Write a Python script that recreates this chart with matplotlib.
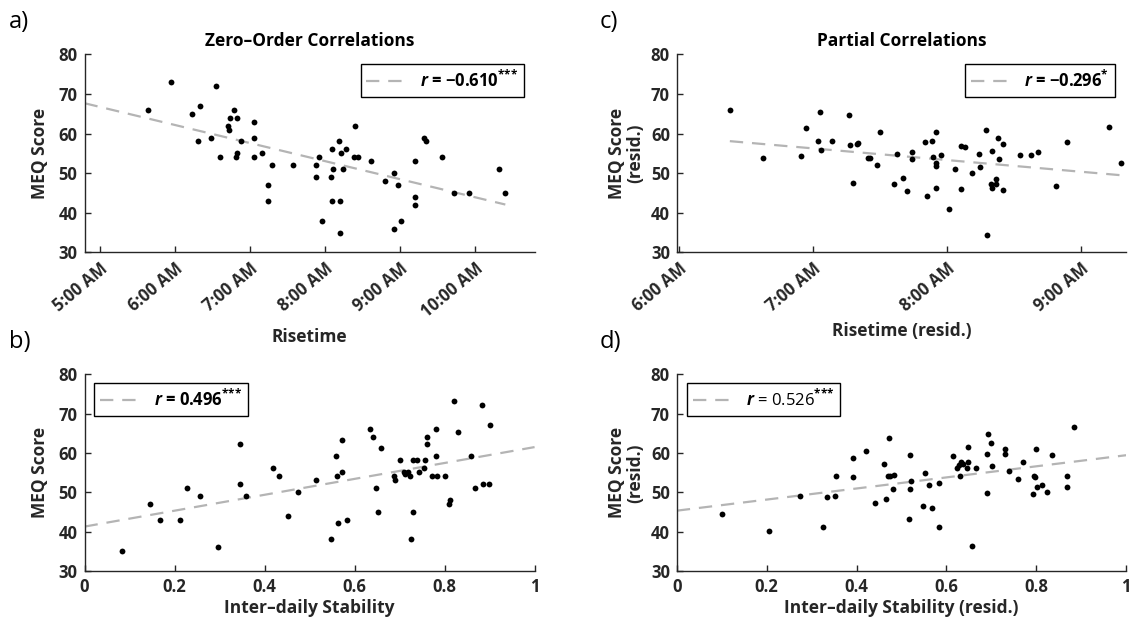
import numpy as np
import matplotlib.pyplot as plt
from matplotlib.ticker import FuncFormatter

plt.rcParams['font.family'] = ['Open Sans', 'DejaVu Sans']
plt.rcParams['font.weight'] = 'bold'
plt.rcParams['axes.labelweight'] = 'bold'
plt.rcParams['mathtext.fontset'] = 'custom'
plt.rcParams['mathtext.rm'] = 'Open Sans'
plt.rcParams['mathtext.it'] = 'Open Sans:italic'
plt.rcParams['mathtext.bf'] = 'Open Sans:bold'
plt.rcParams['mathtext.bfit'] = 'Open Sans:italic:bold'

# a) risetime (hours) vs MEQ score
rise_a = [5.65, 5.95, 6.23, 6.31, 6.34, 6.48, 6.55, 6.61, 6.71, 6.73, 6.74, 6.79, 6.83, 6.82,
          6.83, 6.89, 7.06, 7.06, 7.06, 7.17, 7.24, 7.30, 7.25, 7.58, 7.88, 7.89, 7.92, 7.96,
          8.10, 8.09, 8.11, 8.10, 8.19, 8.21, 8.22, 8.20, 8.25, 8.28, 8.40, 8.39, 8.45, 8.62,
          8.80, 8.93, 8.93, 8.98, 9.02, 9.20, 9.20, 9.21, 9.33, 9.35, 9.56, 9.72, 9.92, 10.33, 10.41]
meq_a = [66, 73, 65, 58, 67, 59, 72, 54, 62, 61, 64, 66, 64, 54,
         55, 58, 63, 59, 54, 55, 47, 52, 43, 52, 49, 52, 54, 38,
         56, 49, 51, 43, 58, 43, 55, 35, 51, 56, 62, 54, 54, 53,
         48, 50, 36, 47, 38, 53, 44, 42, 59, 58, 54, 45, 45, 51, 45]

# b) inter-daily stability vs MEQ score
isv_b = [0.083, 0.146, 0.168, 0.211, 0.228, 0.256, 0.297, 0.346, 0.346, 0.359, 0.418, 0.431,
         0.452, 0.474, 0.514, 0.547, 0.559, 0.561, 0.563, 0.571, 0.571, 0.584, 0.634, 0.641,
         0.648, 0.652, 0.659, 0.688, 0.689, 0.701, 0.709, 0.713, 0.719, 0.723, 0.726, 0.729,
         0.730, 0.738, 0.743, 0.754, 0.757, 0.760, 0.760, 0.772, 0.781, 0.781, 0.783, 0.801,
         0.809, 0.813, 0.822, 0.829, 0.858, 0.868, 0.883, 0.886, 0.899, 0.901]
meq_b = [35.2, 47.2, 43.1, 43.1, 51.2, 49.2, 36.1, 62.2, 52.1, 49.2, 56.2, 54.2,
         44.1, 50.1, 53.1, 38.1, 59.2, 54.2, 42.2, 55.1, 63.2, 43.1, 66.1, 64.1,
         51.2, 45.1, 61.2, 54.2, 53.1, 58.3, 55.1, 54.7, 55.1, 54.2, 38.1, 45.1,
         58.3, 58.3, 55.1, 56.2, 58.3, 64.1, 62.2, 54.2, 59.2, 66.1, 54.2, 54.2,
         47.2, 48.2, 73.1, 65.3, 59.2, 51.2, 72.2, 52.1, 52.1, 67.1]

# c) risetime residuals vs MEQ residuals
rise_c = [6.38, 6.63, 6.91, 6.95, 7.04, 7.05, 7.06, 7.14, 7.27, 7.28, 7.30, 7.33, 7.34, 7.41,
          7.43, 7.48, 7.50, 7.61, 7.63, 7.67, 7.70, 7.74, 7.74, 7.84, 7.85, 7.89, 7.90, 7.92,
          7.92, 7.92, 7.92, 7.96, 8.02, 8.06, 8.11, 8.14, 8.11, 8.19, 8.24, 8.25, 8.29, 8.30,
          8.34, 8.34, 8.33, 8.37, 8.37, 8.38, 8.39, 8.42, 8.42, 8.55, 8.63, 8.68, 8.82, 8.90,
          9.21, 9.30]
meq_c = [65.9, 53.9, 54.3, 61.4, 58.1, 65.4, 55.9, 58.1, 64.6, 57.0, 47.5, 57.4, 57.7, 53.9,
         53.9, 52.1, 60.3, 47.3, 54.8, 48.9, 45.6, 55.4, 53.6, 57.9, 44.3, 58.2, 54.0, 52.6,
         51.9, 60.3, 46.3, 54.5, 40.9, 51.1, 56.9, 56.5, 46.1, 50.1, 54.9, 51.5, 61.0, 34.3,
         46.3, 55.7, 47.4, 48.6, 47.3, 59.0, 53.6, 57.4, 45.7, 54.7, 54.5, 55.3, 46.8, 57.8,
         61.6, 52.6]

# d) inter-daily stability residuals vs MEQ residuals
isv_d = [0.101, 0.205, 0.275, 0.326, 0.334, 0.351, 0.355, 0.393, 0.393, 0.422, 0.441, 0.461,
         0.466, 0.472, 0.471, 0.475, 0.483, 0.481, 0.517, 0.521, 0.519, 0.519, 0.548, 0.552,
         0.562, 0.569, 0.584, 0.584, 0.614, 0.624, 0.631, 0.629, 0.633, 0.638, 0.647, 0.649,
         0.649, 0.657, 0.667, 0.691, 0.691, 0.693, 0.701, 0.700, 0.730, 0.730, 0.740, 0.760,
         0.771, 0.792, 0.796, 0.797, 0.799, 0.802, 0.813, 0.824, 0.835, 0.869, 0.869, 0.883]
meq_d = [44.5, 40.2, 49.2, 41.3, 48.9, 49.2, 54.2, 53.9, 58.7, 60.5, 47.3, 57.2,
         48.4, 63.9, 54.2, 54.2, 54.4, 50.9, 43.2, 53.0, 59.5, 50.9, 46.6, 55.0,
         51.8, 46.0, 52.5, 41.2, 59.2, 56.3, 54.2, 57.0, 57.7, 57.3, 56.1, 57.7,
         61.6, 36.5, 56.1, 49.9, 59.8, 64.8, 56.6, 62.5, 61.0, 59.8, 55.5, 53.3,
         57.7, 49.5, 54.2, 53.9, 61.0, 51.5, 52.0, 50.1, 59.5, 54.2, 51.5, 66.5]

stars3 = r'$^{{*}{*}{*}}$'
r_labels = [r'$\mathbfit{r}$ = −0.610' + stars3, r'$\mathbfit{r}$ = 0.496' + stars3,
            r'$\mathbfit{r}$ = −0.296$^{{*}}$', r'$\mathit{r}$ = 0.526' + stars3]

dark = '#262626'
line_gray = '#b4b4b4'

fig = plt.figure(figsize=(11.29, 6.24), dpi=100)
ax_a = fig.add_axes([0.0749, 0.5954, 0.3986, 0.3176])
ax_b = fig.add_axes([0.0749, 0.0845, 0.3986, 0.3157])
ax_c = fig.add_axes([0.5995, 0.5954, 0.3979, 0.3176])
ax_d = fig.add_axes([0.5995, 0.0845, 0.3979, 0.3157])

def hour_fmt(v, pos):
    return '%d:00 AM' % int(round(v))

def style(ax):
    ax.spines[['top', 'right']].set_visible(False)
    for s in ['left', 'bottom']:
        ax.spines[s].set_color(dark)
        ax.spines[s].set_linewidth(1.0)
    ax.tick_params(direction='in', length=4, width=1, colors=dark, labelsize=12, pad=5)
    ax.set_ylim(30, 80)
    ax.set_yticks(np.arange(30, 81, 10))

def scatter_fit(ax, x, y, span, label, loc, anchor, weight):
    x = np.array(x)
    y = np.array(y)
    ax.plot(x, y, 'o', color='black', ms=4.2, mec='black', mew=0, zorder=3)
    k, b = np.polyfit(x, y, 1)
    xs = np.array(span)
    ax.plot(xs, k*xs + b, color=line_gray, lw=1.6, dashes=(6, 4), label=label, zorder=2)
    leg = ax.legend(loc=loc, bbox_to_anchor=anchor, borderaxespad=0, fancybox=False,
                    framealpha=1, edgecolor='black', handlelength=2.2, handletextpad=1.0,
                    borderpad=0.35, prop={'size': 12, 'weight': weight})
    leg.get_frame().set_linewidth(1.0)

# a
style(ax_a)
ax_a.set_xlim(4.8, 10.8)
ax_a.set_xticks(range(5, 11))
ax_a.xaxis.set_major_formatter(FuncFormatter(hour_fmt))
scatter_fit(ax_a, rise_a, meq_a, [4.8, max(rise_a)], r_labels[0], 'upper right', (0.976, 0.95), 'bold')
ax_a.set_title('Zero–Order Correlations', fontsize=12.5, fontweight='bold', pad=6)
ax_a.set_xlabel('Risetime', fontsize=12.5, color=dark, labelpad=5)
ax_a.set_ylabel('MEQ Score', fontsize=12.5, color=dark, labelpad=7)

# b
style(ax_b)
ax_b.set_xlim(0, 1)
ax_b.set_xticks([0, 0.2, 0.4, 0.6, 0.8, 1])
ax_b.set_xticklabels(['0', '0.2', '0.4', '0.6', '0.8', '1'])
scatter_fit(ax_b, isv_b, meq_b, [0, 1], r_labels[1], 'upper left', (0.022, 0.955), 'bold')
ax_b.set_xlabel('Inter–daily Stability', fontsize=12.5, color=dark, labelpad=2)
ax_b.set_ylabel('MEQ Score', fontsize=12.5, color=dark, labelpad=7)

# c
style(ax_c)
ax_c.set_xlim(5.984, 9.34)
ax_c.set_xticks(range(6, 10))
ax_c.xaxis.set_major_formatter(FuncFormatter(hour_fmt))
scatter_fit(ax_c, rise_c, meq_c, [min(rise_c), max(rise_c)], r_labels[2], 'upper right', (0.976, 0.95), 'bold')
ax_c.set_title('Partial Correlations', fontsize=12.5, fontweight='bold', pad=6)
ax_c.set_xlabel('Risetime (resid.)', fontsize=12.5, color=dark, labelpad=5)
ax_c.set_ylabel('MEQ Score\n(resid.)', fontsize=12.5, color=dark, labelpad=5, linespacing=1.0)

# d
style(ax_d)
ax_d.set_xlim(0, 1)
ax_d.set_xticks([0, 0.2, 0.4, 0.6, 0.8, 1])
ax_d.set_xticklabels(['0', '0.2', '0.4', '0.6', '0.8', '1'])
scatter_fit(ax_d, isv_d, meq_d, [0, 1], r_labels[3], 'upper left', (0.022, 0.955), 'normal')
ax_d.set_xlabel('Inter–daily Stability (resid.)', fontsize=12.5, color=dark, labelpad=2)
ax_d.set_ylabel('MEQ Score\n(resid.)', fontsize=12.5, color=dark, labelpad=5, linespacing=1.0)

# tick label styling, done last so every label object gets it
for ax in [ax_a, ax_b, ax_c, ax_d]:
    plt.setp(ax.get_xticklabels() + ax.get_yticklabels(), fontweight='bold')
for ax in [ax_a, ax_c]:
    plt.setp(ax.get_xticklabels(), rotation=40, ha='right', rotation_mode='anchor')

# panel letters
for lbl, x, y in [('a)', 0.008, 0.965), ('b)', 0.008, 0.452), ('c)', 0.531, 0.965), ('d)', 0.531, 0.452)]:
    fig.text(x, y, lbl, fontsize=17, fontweight='normal', color='black', va='center', ha='left')

fig.savefig('out.png', dpi=100)
